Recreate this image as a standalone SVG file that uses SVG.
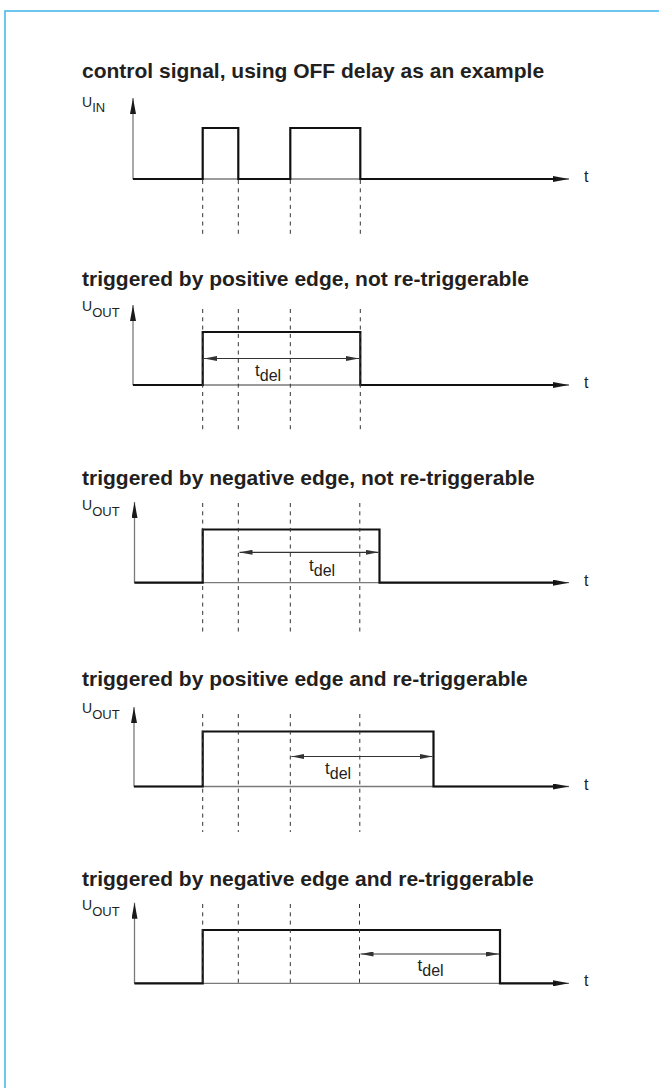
<svg xmlns="http://www.w3.org/2000/svg" width="659" height="1088" viewBox="0 0 659 1088">
<style>
.title{font-family:"Liberation Sans",Arial,sans-serif;font-weight:bold;font-size:21px;fill:#231f20}
.lbl{font-family:"Liberation Sans",Arial,sans-serif;font-size:14px;fill:#231f20}
.tl{font-family:"Liberation Sans",Arial,sans-serif;font-size:16px;fill:#231f20}
.td{font-family:"Liberation Sans",Arial,sans-serif;font-size:17px;fill:#231f20}
.axis{stroke:#7a7a7a;stroke-width:1.3;fill:none;marker-end:url(#ah)}
.sig{stroke:#111;stroke-width:2.2;fill:none;stroke-linejoin:miter;stroke-linecap:square}
.dash{stroke:#333;stroke-width:1;stroke-dasharray:4 4.3;fill:none}
.dim{stroke:#333;stroke-width:1.2;fill:none;marker-start:url(#dh);marker-end:url(#dh)}
</style>
<defs>
<marker id="ah" markerUnits="userSpaceOnUse" markerWidth="16" markerHeight="6" refX="16" refY="3" orient="auto">
<path d="M0,0 L16,3 L0,6 z" fill="#1a1a1a"/>
</marker>
<marker id="dh" markerUnits="userSpaceOnUse" markerWidth="13" markerHeight="5" refX="13" refY="2.5" orient="auto-start-reverse">
<path d="M0,0 L13,2.5 L0,5 z" fill="#333"/>
</marker>
</defs>
<rect width="659" height="1088" fill="#fff"/>
<g id="frame" stroke="#3db4e8" stroke-width="1.5" fill="none">
<path d="M5,1088 V11 H659"/>
</g>

<g id="panel1">
<text class="title" x="82" y="78">control signal, using OFF delay as an example</text>
<text class="lbl" x="82" y="106.5">U<tspan dy="5.5" font-size="13">IN</tspan></text>
<line class="axis" x1="133" y1="179" x2="133" y2="98"/>
<line class="axis" x1="133" y1="179" x2="569" y2="179"/>
<path class="sig" d="M134,179 H202.7 V128 H238.3 V179 H290.3 V128 H360.3 V179 H555"/>
<g class="dash">
<line x1="202.7" y1="180" x2="202.7" y2="236"/>
<line x1="238.3" y1="180" x2="238.3" y2="236"/>
<line x1="290.3" y1="180" x2="290.3" y2="236"/>
<line x1="360.3" y1="180" x2="360.3" y2="236"/>
</g>
<text class="tl" x="584" y="182">t</text>
</g>

<g id="panel2">
<text class="title" x="82" y="286">triggered by positive edge, not re-triggerable</text>
<text class="lbl" x="82" y="310.5">U<tspan dy="6" font-size="13">OUT</tspan></text>
<line class="axis" x1="133" y1="385" x2="133" y2="305"/>
<line class="axis" x1="133" y1="385" x2="569" y2="385"/>
<path class="sig" d="M134,385 H202.7 V332 H360.3 V385 H555"/>
<g class="dash">
<line x1="202.7" y1="309" x2="202.7" y2="430"/>
<line x1="238.3" y1="309" x2="238.3" y2="430"/>
<line x1="290.3" y1="309" x2="290.3" y2="430"/>
<line x1="360.3" y1="309" x2="360.3" y2="430"/>
</g>
<line class="dim" x1="204" y1="358.5" x2="359" y2="358.5"/>
<text class="td" x="255" y="375.5">t<tspan dy="5" font-size="16">del</tspan></text>
<text class="tl" x="584" y="388">t</text>
</g>

<g id="panel3">
<text class="title" x="82" y="485">triggered by negative edge, not re-triggerable</text>
<text class="lbl" x="82" y="510">U<tspan dy="6" font-size="13">OUT</tspan></text>
<line class="axis" x1="134.5" y1="582.7" x2="134.5" y2="502"/>
<line class="axis" x1="134.5" y1="582.7" x2="569" y2="582.7"/>
<path class="sig" d="M135.5,582.7 H202.7 V529.5 H379.5 V582.7 H555"/>
<g class="dash">
<line x1="202.7" y1="503" x2="202.7" y2="632"/>
<line x1="238.3" y1="503" x2="238.3" y2="632"/>
<line x1="290.3" y1="503" x2="290.3" y2="632"/>
<line x1="359.8" y1="503" x2="359.8" y2="632"/>
</g>
<line class="dim" x1="239.5" y1="552.3" x2="378.5" y2="552.3"/>
<text class="td" x="309" y="570.5">t<tspan dy="5" font-size="16">del</tspan></text>
<text class="tl" x="584" y="585.7">t</text>
</g>

<g id="panel4">
<text class="title" x="82" y="685.5">triggered by positive edge and re-triggerable</text>
<text class="lbl" x="82" y="713">U<tspan dy="6" font-size="13">OUT</tspan></text>
<line class="axis" x1="134" y1="786.5" x2="134" y2="707"/>
<line class="axis" x1="134" y1="786.5" x2="569" y2="786.5"/>
<path class="sig" d="M135,786.5 H202.7 V731.5 H433.5 V786.5 H555"/>
<g class="dash">
<line x1="202.7" y1="714" x2="202.7" y2="832"/>
<line x1="238.3" y1="714" x2="238.3" y2="832"/>
<line x1="290.3" y1="714" x2="290.3" y2="832"/>
<line x1="359.8" y1="714" x2="359.8" y2="832"/>
</g>
<line class="dim" x1="291.3" y1="756.5" x2="432.5" y2="756.5"/>
<text class="td" x="325" y="774">t<tspan dy="5" font-size="16">del</tspan></text>
<text class="tl" x="584" y="789.5">t</text>
</g>

<g id="panel5">
<text class="title" x="82" y="886">triggered by negative edge and re-triggerable</text>
<text class="lbl" x="82" y="910">U<tspan dy="6" font-size="13">OUT</tspan></text>
<line class="axis" x1="134.5" y1="983.3" x2="134.5" y2="902.7"/>
<line class="axis" x1="134.5" y1="983.3" x2="569" y2="983.3"/>
<path class="sig" d="M135.5,983.3 H202.7 V930 H500 V983.3 H555"/>
<g class="dash">
<line x1="202.7" y1="904" x2="202.7" y2="983"/>
<line x1="238.3" y1="904" x2="238.3" y2="983"/>
<line x1="290.3" y1="904" x2="290.3" y2="983"/>
<line x1="359.5" y1="904" x2="359.5" y2="983"/>
</g>
<line class="dim" x1="360.5" y1="954" x2="499" y2="954"/>
<text class="td" x="417.5" y="971">t<tspan dy="5" font-size="16">del</tspan></text>
<text class="tl" x="584" y="986.3">t</text>
</g>
</svg>
